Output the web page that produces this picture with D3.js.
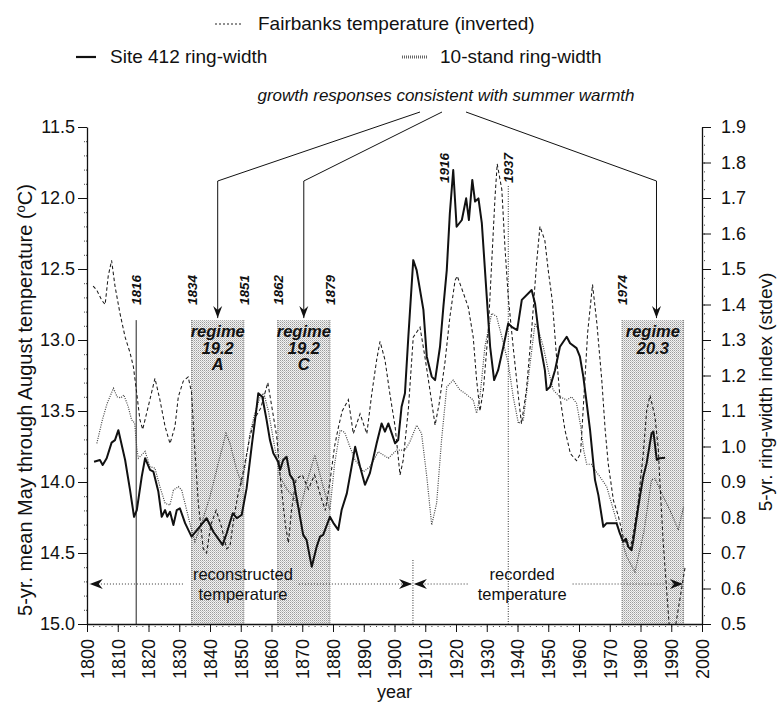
<!DOCTYPE html>
<html>
<head>
<meta charset="utf-8">
<script src="https://cdn.jsdelivr.net/npm/d3@7"></script>
<style>
  body { margin: 0; background: #fff; }
  svg { display: block; font-family: "Liberation Sans", Arial, Helvetica, sans-serif; }
</style>
</head>
<body>
<svg id="chart" width="779" height="707"></svg>
<script>
// ---- Site 412 ring-width index (right axis, stdev units) ----
const site412Years = [1802.3,1804.2,1805.1,1806.4,1808.0,1809.1,1810.2,1812.4,1814.0,1815.3,1816.2,1817.8,1818.9,1820.5,1821.6,1823.2,1824.3,1825.4,1826.1,1827.0,1828.1,1829.2,1830.2,1831.9,1834.0,1836.7,1838.9,1841.1,1844.1,1845.4,1847.4,1848.7,1850.3,1851.9,1853.6,1855.2,1855.7,1857.0,1858.4,1859.5,1860.6,1862.2,1862.8,1863.8,1864.9,1866.0,1867.1,1868.7,1870.3,1871.4,1873.1,1874.7,1875.8,1876.8,1879.0,1880.1,1881.7,1882.8,1884.5,1887.2,1888.8,1890.4,1892.0,1894.2,1895.8,1896.9,1898.0,1899.1,1900.2,1901.2,1902.3,1903.4,1904.5,1906.1,1907.2,1909.4,1910.5,1912.1,1913.2,1914.8,1915.9,1917.0,1918.0,1919.1,1920.2,1921.9,1923.3,1924.2,1925.3,1926.2,1927.3,1928.4,1930.0,1931.1,1932.4,1933.7,1935.4,1937.0,1938.1,1939.9,1941.4,1944.6,1945.7,1947.3,1948.9,1949.5,1950.6,1952.2,1953.8,1956.0,1957.1,1959.2,1960.3,1961.4,1962.5,1963.6,1965.2,1966.3,1967.9,1969.0,1972.2,1973.3,1974.4,1975.3,1976.0,1977.1,1977.7,1978.8,1979.8,1980.9,1982.0,1983.6,1984.2,1985.3,1986.3,1988.0];
const site412Values = [0.957,0.962,0.948,0.967,1.011,1.018,1.046,0.962,0.877,0.802,0.821,0.915,0.967,0.934,0.929,0.873,0.802,0.821,0.802,0.816,0.779,0.821,0.826,0.784,0.746,0.774,0.798,0.760,0.723,0.755,0.812,0.798,0.807,0.882,1.004,1.112,1.150,1.140,1.075,1.018,0.981,0.956,0.934,0.962,0.971,0.920,0.906,0.830,0.751,0.737,0.661,0.718,0.746,0.751,0.802,0.785,0.765,0.821,0.868,0.999,0.943,0.892,0.925,1.009,1.065,1.042,1.065,1.037,1.009,1.018,1.112,1.150,1.309,1.525,1.497,1.385,1.253,1.197,1.187,1.281,1.394,1.497,1.657,1.779,1.619,1.638,1.699,1.638,1.751,1.690,1.699,1.629,1.422,1.281,1.187,1.215,1.281,1.347,1.337,1.328,1.413,1.441,1.403,1.291,1.215,1.159,1.168,1.215,1.281,1.309,1.291,1.277,1.253,1.197,1.122,1.046,0.906,0.863,0.774,0.784,0.784,0.755,0.732,0.740,0.718,0.708,0.737,0.802,0.859,0.915,0.953,1.037,1.042,0.962,0.967,0.968];

// ---- 10-stand ring-width index (right axis) ----
const standYears = [1803.2,1805.0,1806.5,1808.6,1809.8,1811.0,1812.0,1813.4,1814.5,1815.5,1816.2,1816.7,1818.9,1820.5,1822.1,1823.7,1825.4,1827.0,1828.1,1829.7,1830.8,1832.4,1834.0,1835.1,1837.3,1840.0,1842.7,1845.2,1846.5,1848.7,1850.3,1851.4,1853.0,1854.6,1856.3,1857.5,1859.0,1861.0,1862.8,1865.0,1867.1,1869.3,1871.5,1874.1,1876.8,1879.0,1880.5,1882.3,1883.8,1885.5,1887.2,1889.9,1892.0,1894.7,1898.0,1900.7,1903.4,1905.0,1907.2,1908.8,1910.5,1912.1,1913.7,1915.3,1917.0,1919.1,1921.3,1922.9,1925.6,1926.7,1927.8,1929.4,1931.6,1933.2,1934.9,1937.0,1938.6,1940.3,1941.9,1944.1,1945.7,1946.8,1948.4,1950.0,1951.6,1953.8,1956.0,1957.6,1959.2,1960.5,1961.5,1962.5,1964.0,1965.5,1966.8,1969.0,1971.2,1973.3,1975.5,1978.2,1981.0,1983.6,1984.7,1987.4,1989.6,1992.3,1994.0];
const standValues = [1.009,1.075,1.120,1.164,1.140,1.137,1.145,1.112,1.075,1.066,0.995,0.967,0.986,0.943,0.939,0.887,0.840,0.835,0.877,0.887,0.877,0.821,0.765,0.732,0.784,0.859,0.953,1.037,1.009,0.934,0.896,0.943,1.037,1.094,1.140,1.150,1.100,1.000,0.915,0.880,0.859,0.821,0.900,0.976,0.887,0.821,0.950,1.046,1.040,0.999,0.962,0.929,0.943,0.985,0.967,0.990,0.990,1.013,1.060,1.037,0.915,0.779,0.840,1.018,1.168,1.187,1.159,1.150,1.131,1.094,1.140,1.281,1.375,1.366,1.309,1.234,1.140,1.065,1.075,1.234,1.347,1.328,1.281,1.215,1.159,1.140,1.131,1.140,1.122,1.060,0.990,0.950,0.950,0.930,0.915,0.887,0.821,0.755,0.690,0.647,0.755,0.906,0.910,0.859,0.820,0.765,0.830];

// ---- Fairbanks May-Aug temperature, 5-yr mean (left axis, inverted, deg C) ----
const fairbanksYears = [1802.0,1803.2,1804.8,1805.9,1806.9,1808.0,1809.1,1810.7,1812.4,1814.0,1815.1,1816.2,1817.2,1818.1,1819.9,1822.1,1823.7,1825.4,1827.0,1828.6,1829.7,1831.3,1832.9,1834.0,1835.0,1836.2,1837.8,1838.9,1840.3,1842.0,1843.8,1845.4,1846.5,1847.8,1849.0,1850.8,1853.0,1854.6,1856.5,1858.8,1860.1,1861.7,1863.0,1864.5,1865.5,1866.5,1868.0,1870.0,1872.0,1874.0,1876.0,1877.5,1879.0,1880.5,1881.7,1883.0,1885.0,1886.6,1888.8,1891.0,1892.6,1894.2,1895.3,1896.9,1898.5,1900.2,1901.8,1902.8,1904.5,1906.1,1908.3,1909.9,1911.5,1913.2,1914.5,1916.4,1918.0,1919.7,1920.4,1922.4,1924.0,1925.6,1926.7,1927.8,1928.9,1930.5,1931.6,1932.7,1933.4,1934.9,1935.9,1937.0,1938.6,1940.3,1941.3,1942.9,1944.6,1946.2,1947.3,1948.9,1950.0,1951.3,1952.7,1953.8,1955.4,1957.2,1959.2,1960.5,1961.6,1962.8,1964.4,1965.8,1967.4,1968.5,1969.5,1971.2,1972.8,1974.4,1976.6,1977.7,1979.3,1980.9,1982.0,1983.1,1984.7,1985.8,1986.3,1987.4,1988.5,1989.3,1990.2,1991.5,1993.0,1994.5];
const fairbanksValues = [12.62,12.65,12.72,12.75,12.55,12.44,12.62,12.81,12.98,13.09,13.19,13.38,13.56,13.63,13.47,13.27,13.42,13.61,13.73,13.61,13.40,13.29,13.26,13.37,13.75,14.15,14.47,14.50,14.30,14.20,14.32,14.47,14.45,14.25,14.10,13.93,13.68,13.55,13.48,13.30,13.47,13.68,14.00,14.30,14.43,14.20,13.98,13.95,14.05,13.95,14.10,14.20,14.00,13.75,13.62,13.50,13.42,13.66,13.52,13.66,13.38,13.14,13.01,13.14,13.38,13.61,13.95,13.85,13.49,12.98,12.91,13.12,13.35,13.60,13.45,13.16,12.84,12.58,12.55,12.67,12.77,12.98,13.28,13.50,13.35,12.93,12.46,11.99,11.76,11.94,12.34,12.70,13.05,13.40,13.59,13.35,12.93,12.46,12.20,12.30,12.51,12.72,13.12,13.40,13.63,13.80,13.85,13.80,13.40,12.95,12.61,12.88,13.28,13.63,13.87,14.13,14.24,14.39,14.48,14.36,14.13,13.80,13.50,13.39,13.54,13.77,14.00,14.43,14.76,15.00,15.12,15.00,14.80,14.60];

// ---- axis ticks ----
const xTickYears = d3.range(1800, 2001, 10);
const tempTicks = [11.5, 12.0, 12.5, 13.0, 13.5, 14.0, 14.5, 15.0];
const ringTicks = [0.5, 0.6, 0.7, 0.8, 0.9, 1.0, 1.1, 1.2, 1.3, 1.4, 1.5, 1.6, 1.7, 1.8, 1.9];

// ---- growth regimes and marked years ----
const regimeStart = [1834, 1862, 1974];
const regimeEnd = [1851, 1879, 1994];
const regimeLines = [["regime", "19.2", "A"], ["regime", "19.2", "C"], ["regime", "20.3"]];
const regimeArrowYears = [1842.5, 1870.5, 1985.2];
const lowYearLabels = [1816, 1834, 1851, 1862, 1879, 1974];
const highYearLabels = [1916, 1937];
const recordStartYear = 1906;

// ---- layout ----
const plot = { left: 87, right: 702, top: 127, bottom: 624 };
const regimeTopTemp = 12.86;

const svg = d3.select("#chart");
const x = d3.scaleLinear().domain([1800, 2000]).range([plot.left, plot.right]);
const yT = d3.scaleLinear().domain([11.5, 15]).range([plot.top, plot.bottom]);
const yR = d3.scaleLinear().domain([0.5, 1.9]).range([plot.bottom, plot.top]);

const defs = svg.append("defs");
const pat = defs.append("pattern").attr("id", "stipple")
  .attr("patternUnits", "userSpaceOnUse").attr("width", 2).attr("height", 2);
pat.append("rect").attr("width", 2).attr("height", 2).attr("fill", "#f3f3f3");
pat.append("rect").attr("x", 0).attr("y", 0).attr("width", 1).attr("height", 1).attr("fill", "#9c9c9c");
pat.append("rect").attr("x", 1).attr("y", 1).attr("width", 1).attr("height", 1).attr("fill", "#c4c4c4");

defs.append("clipPath").attr("id", "plotClip").append("rect")
  .attr("x", plot.left).attr("y", plot.top)
  .attr("width", plot.right - plot.left).attr("height", plot.bottom - plot.top);

// barbed arrow heads used on the pointers
defs.append("marker").attr("id", "barb")
  .attr("markerUnits", "userSpaceOnUse")
  .attr("viewBox", "-14 -6 16 12").attr("refX", 0).attr("refY", 0)
  .attr("markerWidth", 16).attr("markerHeight", 12).attr("orient", "auto")
  .append("path").attr("d", "M0,0 L-13,-5 L-9,0 L-13,5 Z").attr("fill", "#111");
defs.append("marker").attr("id", "barbSmall")
  .attr("markerUnits", "userSpaceOnUse")
  .attr("viewBox", "-14 -6 16 12").attr("refX", 0).attr("refY", 0)
  .attr("markerWidth", 16).attr("markerHeight", 12).attr("orient", "auto")
  .append("path").attr("d", "M0,0 L-12,-4.5 L-8,0 L-12,4.5 Z").attr("fill", "#111");

// ---- regime boxes ----
const boxTop = yT(regimeTopTemp);
regimeStart.forEach((s, i) => {
  const e = regimeEnd[i];
  svg.append("rect")
    .attr("x", x(s)).attr("y", boxTop)
    .attr("width", x(e) - x(s)).attr("height", plot.bottom - boxTop)
    .attr("fill", "url(#stipple)");
  [s, e].forEach(v => {
    svg.append("line")
      .attr("x1", x(v)).attr("x2", x(v)).attr("y1", boxTop).attr("y2", plot.bottom)
      .attr("stroke", "#777").attr("stroke-width", 1).attr("stroke-dasharray", "1,1");
  });
  const cx = (x(s) + x(e)) / 2;
  const t = svg.append("text").attr("text-anchor", "middle").attr("font-size", 16.5)
    .attr("font-weight", "bold").attr("font-style", "italic").attr("fill", "#111");
  regimeLines[i].forEach((line, k) => {
    t.append("tspan").attr("x", cx).attr("y", boxTop + 17 + k * 16.5).text(line);
  });
});

// ---- marked-year guide lines ----
svg.append("line").attr("x1", x(1816)).attr("x2", x(1816))
  .attr("y1", boxTop).attr("y2", plot.bottom)
  .attr("stroke", "#222").attr("stroke-width", 1);
svg.append("line").attr("x1", x(1937)).attr("x2", x(1937))
  .attr("y1", 186).attr("y2", plot.bottom)
  .attr("stroke", "#333").attr("stroke-width", 1).attr("stroke-dasharray", "1,1.5");
svg.append("line").attr("x1", x(recordStartYear)).attr("x2", x(recordStartYear))
  .attr("y1", 560).attr("y2", plot.bottom)
  .attr("stroke", "#333").attr("stroke-width", 1).attr("stroke-dasharray", "1,1.5");

function yearLabel(yr, baseY) {
  svg.append("text")
    .attr("transform", `translate(${x(yr) + 5},${baseY}) rotate(-90)`)
    .attr("font-size", 13.5).attr("font-weight", "bold").attr("font-style", "italic")
    .attr("fill", "#111").text(yr);
}
lowYearLabels.forEach(yr => yearLabel(yr, 305));
highYearLabels.forEach(yr => yearLabel(yr, 183));

// ---- series ----
const series = svg.append("g").attr("clip-path", "url(#plotClip)");
const pairs = (xs, vs) => xs.map((v, i) => [v, vs[i]]);

series.append("path")
  .datum(pairs(standYears, standValues))
  .attr("d", d3.line().x(d => x(d[0])).y(d => yR(d[1])))
  .attr("fill", "none").attr("stroke", "#444").attr("stroke-width", 1.2)
  .attr("stroke-dasharray", "1,1.3");

series.append("path")
  .datum(pairs(fairbanksYears, fairbanksValues))
  .attr("d", d3.line().x(d => x(d[0])).y(d => yT(d[1])))
  .attr("fill", "none").attr("stroke", "#1a1a1a").attr("stroke-width", 1.05)
  .attr("stroke-dasharray", "3.5,2.5");

series.append("path")
  .datum(pairs(site412Years, site412Values))
  .attr("d", d3.line().x(d => x(d[0])).y(d => yR(d[1])))
  .attr("fill", "none").attr("stroke", "#111").attr("stroke-width", 2)
  .attr("stroke-linejoin", "round");

// ---- axes ----
function styleAxis(g) {
  g.selectAll("path.domain").attr("stroke", "#111").attr("stroke-width", 1.3);
  g.selectAll(".tick line").attr("stroke", "#111");
  g.selectAll("text").attr("font-size", 18).attr("fill", "#111");
  g.attr("font-family", null).attr("font-size", null);
}
function minorStyle(g) {
  g.select(".domain").remove();
  g.selectAll(".tick line").attr("stroke", "#444").attr("stroke-dasharray", "1,1");
}

// minor ticks first, majors on top
svg.append("g").attr("transform", `translate(0,${plot.bottom})`)
  .call(d3.axisBottom(x).tickValues(d3.range(1800, 2001, 2)).tickSize(4).tickFormat(""))
  .call(minorStyle);
svg.append("g").attr("transform", `translate(${plot.left},0)`)
  .call(d3.axisLeft(yT).tickValues(d3.range(11.5, 15.001, 0.1)).tickSize(4).tickFormat(""))
  .call(minorStyle);
svg.append("g").attr("transform", `translate(${plot.right},0)`)
  .call(d3.axisRight(yR).tickValues(d3.range(0.5, 1.9001, 0.025)).tickSize(4).tickFormat(""))
  .call(minorStyle);

svg.append("g").attr("transform", `translate(0,${plot.bottom})`)
  .call(d3.axisBottom(x).tickValues(xTickYears).tickFormat(d3.format("d")).tickSize(8).tickSizeOuter(0))
  .call(styleAxis)
  .call(g => g.selectAll("text")
    .attr("transform", "rotate(-90)").attr("x", -15).attr("y", 0).attr("dy", "0.36em")
    .attr("text-anchor", "end"));

svg.append("g").attr("transform", `translate(${plot.left},0)`)
  .call(d3.axisLeft(yT).tickValues(tempTicks).tickFormat(d3.format(".1f")).tickSize(9).tickPadding(3).tickSizeOuter(0))
  .call(styleAxis);

svg.append("g").attr("transform", `translate(${plot.right},0)`)
  .call(d3.axisRight(yR).tickValues(ringTicks).tickFormat(d3.format(".1f")).tickSize(9).tickPadding(10).tickSizeOuter(0))
  .call(styleAxis);

// axis titles
svg.append("text").attr("x", (plot.left + plot.right) / 2).attr("y", 698)
  .attr("text-anchor", "middle").attr("font-size", 18).attr("fill", "#111").text("year");

const leftTitle = svg.append("text")
  .attr("transform", `translate(32,400) rotate(-90)`)
  .attr("text-anchor", "middle").attr("font-size", 20).attr("fill", "#111");
leftTitle.append("tspan").text("5-yr. mean May through August temperature (");
leftTitle.append("tspan").attr("font-size", 13).attr("dy", -7).text("o");
leftTitle.append("tspan").attr("dy", 7).text("C)");

svg.append("text")
  .attr("transform", `translate(772,392) rotate(-90)`)
  .attr("text-anchor", "middle").attr("font-size", 19).attr("fill", "#111")
  .text("5-yr. ring-width index (stdev)");

// ---- legend ----
svg.append("line").attr("x1", 215).attr("x2", 243).attr("y1", 24).attr("y2", 24)
  .attr("stroke", "#222").attr("stroke-width", 1.2).attr("stroke-dasharray", "2,2");
svg.append("text").attr("x", 258).attr("y", 30).attr("font-size", 19).attr("fill", "#111")
  .text("Fairbanks temperature (inverted)");
svg.append("line").attr("x1", 76).attr("x2", 96).attr("y1", 57).attr("y2", 57)
  .attr("stroke", "#111").attr("stroke-width", 2.2);
svg.append("text").attr("x", 110).attr("y", 63).attr("font-size", 19).attr("fill", "#111")
  .text("Site 412 ring-width");
svg.append("line").attr("x1", 402).attr("x2", 428).attr("y1", 57).attr("y2", 57)
  .attr("stroke", "#666").attr("stroke-width", 3).attr("stroke-dasharray", "1,1");
svg.append("text").attr("x", 440).attr("y", 63).attr("font-size", 19).attr("fill", "#111")
  .text("10-stand ring-width");

// ---- annotation: growth responses ----
svg.append("text").attr("x", 446).attr("y", 101).attr("text-anchor", "middle")
  .attr("font-size", 17).attr("font-style", "italic").attr("fill", "#111")
  .text("growth responses consistent with summer warmth");
const fanStartX = [420, 442, 466];
const elbowY = 181;
regimeArrowYears.forEach((yr, i) => {
  svg.append("polyline")
    .attr("points", `${fanStartX[i]},112 ${x(yr)},${elbowY} ${x(yr)},${boxTop - 2}`)
    .attr("fill", "none").attr("stroke", "#111").attr("stroke-width", 1)
    .attr("marker-end", "url(#barbSmall)");
});

// ---- reconstructed / recorded spans ----
const spanY = 584;
function spanLabel(lines, centerYear, fromYear, toYear) {
  const cx = x(centerYear);
  let maxW = 0;
  lines.forEach((line, k) => {
    const t = svg.append("text").attr("x", cx).attr("y", 580 + k * 19.5)
      .attr("text-anchor", "middle").attr("font-size", 16.5).attr("fill", "#111").text(line);
    maxW = Math.max(maxW, t.node().getComputedTextLength());
  });
  const gapL = cx - maxW / 2 - 10, gapR = cx + maxW / 2 + 6;
  svg.append("line").attr("x1", gapL).attr("x2", x(fromYear)).attr("y1", spanY).attr("y2", spanY)
    .attr("stroke", "#333").attr("stroke-dasharray", "1,2").attr("marker-end", "url(#barb)");
  svg.append("line").attr("x1", gapR).attr("x2", x(toYear)).attr("y1", spanY).attr("y2", spanY)
    .attr("stroke", "#333").attr("stroke-dasharray", "1,2").attr("marker-end", "url(#barb)");
}
spanLabel(["reconstructed", "temperature"], 1850.7, 1800.9, 1905.7);
spanLabel(["recorded", "temperature"], 1941.5, 1906.3, 1993.8);
</script>
</body>
</html>
